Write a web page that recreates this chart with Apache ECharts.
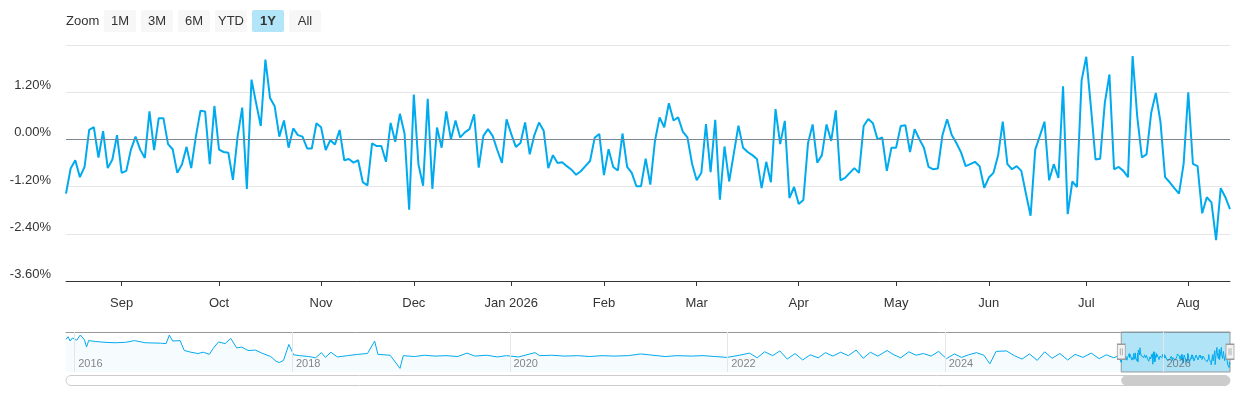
<!DOCTYPE html>
<html><head><meta charset="utf-8">
<script src="https://cdn.jsdelivr.net/npm/echarts@6/dist/echarts.min.js"></script>
<style>html,body{margin:0;padding:0;background:#fff}#c{width:1240px;height:400px}</style>
</head><body><div id="c"></div>
<script>
// ---- categories: trading days of the visible year ----
const monthKeys = ['2025-08','2025-09','2025-10','2025-11','2025-12','2026-01','2026-02','2026-03','2026-04','2026-05','2026-06','2026-07','2026-08'];
const tradingDays = [
  [14,15,18,19,20,21,22,25,26,27,28,29],
  [2,3,4,5,8,9,10,11,12,15,16,17,18,19,22,23,24,25,26,29,30],
  [1,2,3,6,7,8,9,10,14,15,16,17,20,21,22,23,24,27,28,29,30,31],
  [3,4,5,6,7,10,11,12,13,14,17,18,19,20,21,24,25,26,27,28],
  [1,2,3,4,5,8,9,10,11,12,15,16,17,18,19,22,23,24,29,30,31],
  [2,5,6,7,8,9,12,13,14,15,16,20,21,22,23,26,27,28,29,30],
  [2,3,4,5,6,9,10,11,12,13,16,17,18,19,20,23,24,25,26,27],
  [2,3,4,5,6,9,10,11,12,13,16,17,18,19,20,23,24,25,26,27,30,31],
  [1,2,6,7,8,9,10,13,14,15,16,17,20,21,22,23,24,27,28,29,30],
  [1,4,5,6,7,8,11,12,13,14,15,18,19,20,21,22,26,27,28,29],
  [1,2,3,4,5,8,9,10,11,12,15,16,17,18,22,23,24,25,26,29,30],
  [1,2,6,7,8,9,10,13,14,15,16,17,20,21,22,23,24,27,28,29,30,31],
  [3,4,5,6,7,10,11,12,13,14]
];
// ---- series values (%), one array per month ----
const aug2025 = [-1.38,-0.74,-0.53,-0.96,-0.70,0.24,0.31,-0.46,0.21,-0.73,-0.51,0.11];
const sep2025 = [-0.85,-0.80,-0.26,0.07,-0.26,-0.47,0.71,-0.27,0.54,0.54,-0.12,-0.25,-0.85,-0.64,-0.19,-0.73,0.07,0.73,0.71,-0.63,0.85];
const oct2025 = [-0.26,-0.32,-0.34,-1.03,0.07,0.81,-1.26,1.52,0.92,0.34,2.03,1.05,0.84,0.07,0.48,-0.21,0.28,0.11,0.07,-0.23,-0.23,0.41];
const nov2025 = [0.31,-0.27,-0.02,-0.13,0.24,-0.53,-0.50,-0.59,-0.53,-1.09,-1.17,-0.10,-0.17,-0.17,-0.57,0.42,-0.06,0.65,0.15,-1.79];
const dec2025 = [1.14,-0.63,-1.18,1.03,-1.26,0.30,-0.21,0.71,0.00,0.48,0.05,0.18,0.26,0.64,-0.72,0.09,0.26,0.09,-0.27,-0.60,0.51];
const jan2026 = [0.14,-0.19,-0.09,0.43,-0.38,0.11,0.43,0.22,-0.73,-0.40,-0.60,-0.58,-0.68,-0.77,-0.90,-0.81,-0.68,-0.55,0.04,0.14];
const feb2026 = [-0.91,-0.25,-0.70,-0.79,0.15,-0.70,-0.85,-1.19,-1.19,-0.49,-1.15,-0.04,0.56,0.31,0.92,0.48,0.56,0.20,0.05,-0.62];
const mar2026 = [-1.04,-0.85,0.39,-0.83,0.50,-1.53,-0.18,-1.07,-0.36,0.35,-0.21,-0.32,-0.40,-0.50,-1.24,-0.57,-1.09,0.77,-0.12,0.47,-1.49,-1.21];
const apr2026 = [-1.64,-1.54,-0.10,0.38,-0.59,-0.40,0.38,-0.04,0.74,-1.04,-0.98,-0.85,-0.73,-0.85,0.34,0.52,0.41,0.00,0.05,-0.80,-0.21];
const may2026 = [-0.21,0.34,0.36,-0.32,0.26,0.01,-0.21,-0.70,-0.76,-0.74,0.11,0.51,0.11,-0.09,-0.33,-0.68,-0.63,-0.57,-0.68,-1.23];
const jun2026 = [-0.97,-0.85,-0.40,0.45,-0.63,-0.76,-0.68,-0.80,-1.38,-1.94,-0.26,0.09,0.45,-1.04,-0.63,-0.98,1.35,-1.90,-1.07,-1.21,1.50];
const jul2026 = [2.10,0.84,-0.51,-0.49,0.92,1.65,-0.76,-0.70,-0.80,-0.96,2.12,0.58,-0.46,-0.38,0.67,1.18,0.45,-0.96,-1.09,-1.24,-1.38,-0.62];
const aug2026 = [1.20,-0.62,-0.68,-1.88,-1.47,-1.60,-2.56,-1.24,-1.47,-1.77];
const monthValues = [aug2025,sep2025,oct2025,nov2025,dec2025,jan2026,feb2026,mar2026,apr2026,may2026,jun2026,jul2026,aug2026];

// ---- longer history shown in the navigator ----
const historyDates = ['2015-12-03','2015-12-10','2015-12-17','2015-12-24','2016-01-08','2016-01-20','2016-02-03','2016-02-10','2016-02-17','2016-03-10','2016-04-12','2016-05-15','2016-06-20','2016-07-20','2016-08-25','2016-10-15','2016-11-03','2016-11-14','2016-11-25','2016-12-20',
 '2017-01-03','2017-01-25','2017-02-18','2017-03-08','2017-03-28','2017-04-10','2017-04-28','2017-05-20','2017-06-08','2017-06-28','2017-07-15','2017-08-05','2017-08-30','2017-09-20','2017-10-20','2017-11-07','2017-11-18','2017-12-02','2017-12-20',
 '2018-01-05','2018-01-25','2018-02-25','2018-03-20','2018-04-08','2018-04-22','2018-05-10','2018-06-01','2018-07-05','2018-08-08','2018-09-10','2018-10-04','2018-10-15','2018-11-25','2018-12-28',
 '2019-01-08','2019-02-15','2019-03-20','2019-04-25','2019-06-01','2019-07-10','2019-08-10','2019-09-05','2019-10-15','2019-11-20','2019-12-20',
 '2020-01-30','2020-03-25','2020-04-10','2020-05-20','2020-07-01','2020-08-15','2020-09-25','2020-11-05','2020-12-15',
 '2021-02-01','2021-03-15','2021-04-25','2021-06-05','2021-07-15','2021-09-01','2021-10-10','2021-11-20','2021-12-30',
 '2022-02-10','2022-03-15','2022-04-10','2022-05-05','2022-06-01','2022-06-25','2022-07-20','2022-08-15','2022-09-10','2022-10-05','2022-11-01','2022-11-25','2022-12-20',
 '2023-01-15','2023-02-10','2023-03-08','2023-04-01','2023-04-25','2023-05-20','2023-06-20','2023-07-10','2023-08-05','2023-09-01','2023-09-25','2023-10-20','2023-11-15','2023-12-10',
 '2024-01-05','2024-02-01','2024-02-25','2024-03-20','2024-04-15','2024-05-10','2024-05-30','2024-06-20','2024-07-25','2024-08-20','2024-09-15','2024-10-10','2024-11-05','2024-11-30','2024-12-25',
 '2025-01-20','2025-02-15','2025-03-12','2025-04-08','2025-05-05','2025-06-01','2025-06-25','2025-07-20','2025-08-05'];
const historyValues = [4.0,4.6,3.6,4.3,3.8,5.0,3.9,2.2,3.7,3.5,3.3,3.2,3.3,3.7,3.2,3.1,3.0,5.0,3.6,3.7,
 1.4,1.0,0.7,1.0,0.5,1.9,3.4,3.0,4.2,2.0,2.2,1.4,1.5,0.8,0.0,-1.1,-1.4,-0.9,2.8,
 0.4,0.2,0.0,-0.3,0.9,-0.2,1.0,-0.1,0.2,0.5,0.7,3.6,0.5,0.3,-2.75,
 0.2,0.0,0.3,0.1,0.2,0.0,0.8,0.1,0.3,-0.1,0.2,
 -0.1,0.9,0.2,0.3,0.1,0.2,0.0,0.2,0.1,
 0.2,0.6,0.3,0.0,0.2,0.1,0.2,0.0,-0.2,
 0.3,0.8,-0.3,1.1,0.2,1.3,-0.6,0.7,-0.8,0.4,-0.3,0.9,0.1,
 1.0,0.2,1.5,-0.4,1.0,0.1,1.4,0.5,-0.3,1.1,0.3,0.7,0.1,1.2,
 -0.5,0.6,-0.2,0.4,0.9,0.3,-1.7,1.2,1.3,0.2,-0.6,0.6,-0.9,1.1,-0.4,
 0.7,-0.8,0.5,-0.2,0.8,-0.5,0.4,-0.3,0.2];

// ---- tick labels / UI texts ----
const monthNames = ['Jan','Feb','Mar','Apr','May','Jun','Jul','Aug','Sep','Oct','Nov','Dec'];
const navYears = ['2016','2018','2020','2022','2024','2026'];
const rangeButtons = ['1M','3M','6M','YTD','1Y','All'];
const selectedButton = '1Y';

const FONT = '"Liberation Sans", Arial, Helvetica, sans-serif';
const LINE = '#00aaee';

function toTs(s){ const p = s.split('-').map(Number); return new Date(p[0], p[1]-1, p[2]).getTime(); }

const dates = [], values = [];
monthKeys.forEach((m, i) => {
  tradingDays[i].forEach((d, j) => {
    dates.push(m + '-' + String(d).padStart(2, '0'));
    values.push(monthValues[i][j]);
  });
});
const monthStart = new Set();
dates.forEach((d, i) => { if (i > 0 && d.slice(0, 7) !== dates[i - 1].slice(0, 7)) monthStart.add(i); });

const navData = historyDates.map((d, i) => [toTs(d), historyValues[i]])
  .concat(dates.map((d, i) => [toTs(d), values[i]]));
const selStart = toTs(dates[0]);
const selEnd = toTs(dates[dates.length - 1]);
const NAV_LABEL_Y = -1.74;
const HANDLE_Y = 1.12;

const chart = echarts.init(document.getElementById('c'), null, {renderer: 'canvas'});

const option = {
  animation: false,
  textStyle: {fontFamily: FONT},
  grid: [
    {left: 66, right: 10, top: 45, bottom: 119, outerBoundsMode: 'none'},
    {left: 66, right: 10, top: 332, height: 40, outerBoundsMode: 'none'}
  ],
  xAxis: [
    {
      type: 'category', gridIndex: 0, data: dates, boundaryGap: false,
      axisLine: {show: true, onZero: false, lineStyle: {color: '#333', width: 1}},
      axisTick: {show: true, interval: (i) => monthStart.has(i), length: 5, lineStyle: {color: '#333'}},
      axisLabel: {
        interval: (i) => monthStart.has(i), color: '#333', fontSize: 13, margin: 16, fontFamily: FONT,
        formatter: (v) => { const m = +v.slice(5, 7); return m === 1 ? monthNames[0] + ' ' + v.slice(0, 4) : monthNames[m - 1]; }
      },
      splitLine: {show: false}
    },
    {
      type: 'time', gridIndex: 1, min: toTs(historyDates[0]), max: selEnd, position: 'top',
      axisLine: {show: true, onZero: false, lineStyle: {color: '#999', width: 1}},
      axisTick: {show: false}, axisLabel: {show: false}, splitLine: {show: false}
    }
  ],
  yAxis: [
    {
      type: 'value', gridIndex: 0, min: -3.6, max: 2.4, interval: 1.2,
      axisLine: {show: false}, axisTick: {show: false},
      splitLine: {show: true, lineStyle: {color: '#e6e6e6', width: 1}},
      axisLabel: {
        color: '#333', fontSize: 13, margin: 15, verticalAlign: 'bottom', lineHeight: 13, fontFamily: FONT,
        formatter: (v) => { if (v > 2.3) return ''; if (Math.abs(v) < 1e-9) v = 0; return v.toFixed(2) + '%'; }
      }
    },
    {type: 'value', gridIndex: 1, min: -3.6, max: 5.7, show: false}
  ],
  series: [
    { // zero reference line (kept beneath the data line)
      type: 'line', xAxisIndex: 0, yAxisIndex: 0, data: values, z: 1, silent: true,
      symbol: 'none', lineStyle: {opacity: 0},
      markLine: {silent: true, symbol: ['none', 'none'], label: {show: false},
        lineStyle: {color: '#7d8792', width: 1, type: 'solid'}, data: [{yAxis: 0}]}
    },
    {
      type: 'line', name: 'value', xAxisIndex: 0, yAxisIndex: 0, data: values, z: 3,
      symbol: 'none', showSymbol: false, lineStyle: {color: LINE, width: 2}, itemStyle: {color: LINE}
    },
    { // navigator year grid lines
      type: 'line', xAxisIndex: 1, yAxisIndex: 1, data: navData, z: 1, silent: true,
      symbol: 'none', lineStyle: {opacity: 0},
      markLine: {silent: true, symbol: ['none', 'none'], label: {show: false},
        lineStyle: {color: '#e6e6e6', width: 1, type: 'solid'},
        data: navYears.map(y => ({xAxis: toTs(y + '-01-01')}))}
    },
    { // navigator series
      type: 'line', xAxisIndex: 1, yAxisIndex: 1, data: navData, z: 2, silent: true,
      symbol: 'none', showSymbol: false,
      lineStyle: {color: LINE, width: 1}, itemStyle: {color: LINE},
      areaStyle: {color: 'rgba(0,170,238,0.05)', origin: 'start'},
      markArea: {silent: true,
        itemStyle: {color: 'rgba(0,167,230,0.3)', borderColor: '#999', borderWidth: 1},
        data: [[{xAxis: selStart}, {xAxis: selEnd}]]},
      markPoint: {silent: true,
        symbol: 'path://M0,0H8V15H0Z M3,4V11 M5,4V11', symbolSize: [8, 15],
        itemStyle: {color: '#f2f2f2', borderColor: '#999', borderWidth: 1},
        label: {show: false},
        data: [{coord: [selStart, HANDLE_Y]}, {coord: [selEnd, HANDLE_Y]}]}
    },
    { // navigator year labels
      type: 'scatter', xAxisIndex: 1, yAxisIndex: 1, z: 4, silent: true,
      symbolSize: 1, itemStyle: {color: 'rgba(0,0,0,0)'},
      data: navYears.map(y => [toTs(y + '-01-01'), NAV_LABEL_Y]),
      label: {show: true, position: 'right', distance: 3, color: '#666', fontSize: 11, fontFamily: FONT,
        formatter: (p) => navYears[p.dataIndex]}
    }
  ]
};
chart.setOption(option);

// scrollbar + range selector (UI chrome), positions taken from the navigator axis
const sx1 = chart.convertToPixel({xAxisIndex: 1}, selStart);
const sx2 = chart.convertToPixel({xAxisIndex: 1}, selEnd);
const gx0 = chart.convertToPixel({xAxisIndex: 1}, toTs(historyDates[0]));
const graphics = [
  {type: 'rect', shape: {x: gx0, y: 375.5, width: sx2 - gx0, height: 10, r: 5}, style: {fill: '#fff', stroke: '#cccccc', lineWidth: 1}, silent: true},
  {type: 'rect', shape: {x: sx1, y: 375.5, width: sx2 - sx1, height: 10, r: 5}, style: {fill: '#cccccc'}, silent: true},
  {type: 'text', x: 66, y: 21.5, style: {text: 'Zoom', fill: '#333', font: '13px ' + FONT, textVerticalAlign: 'middle'}, silent: true}
];
rangeButtons.forEach((b, i) => {
  const x = 104 + i * 37;
  const sel = b === selectedButton;
  graphics.push({type: 'rect', shape: {x: x, y: 10, width: 32, height: 22, r: 2}, style: {fill: sel ? '#b3e5f8' : '#f7f7f7'}, silent: true});
  graphics.push({type: 'text', x: x + 16, y: 21.5, style: {text: b, fill: '#333', font: (sel ? 'bold ' : '') + '13px ' + FONT, textAlign: 'center', textVerticalAlign: 'middle'}, silent: true});
});
chart.setOption({graphic: graphics});
</script>
</body></html>
